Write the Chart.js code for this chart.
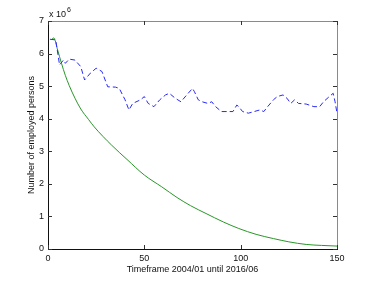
<!DOCTYPE html>
<html>
<head>
<meta charset="utf-8">
<script src="https://cdn.jsdelivr.net/npm/chart.js@4.4.1/dist/chart.umd.min.js"></script>
<style>
  html, body { margin: 0; padding: 0; background: #fff; }
  #wrap { width: 374px; height: 281px; }
</style>
</head>
<body>
<div id="wrap"><canvas id="empChart" width="374" height="281"></canvas></div>
<script>
// month index (x) and employed persons in millions (y)
var realMonths = [1, 4, 6, 8, 9, 11, 14, 17, 19, 22, 25, 28, 31, 35, 37, 40, 42, 44, 48, 50,
  52, 55, 58, 61, 63, 66, 69, 72, 75, 76, 78, 80, 83, 85, 87, 90, 93, 96, 98, 99,
  101, 104, 107, 110, 112, 114, 117, 119, 122, 124, 126, 128, 130, 134, 138, 141, 143, 146, 148, 149, 150];
var realValues = [6.44, 6.42, 5.65, 5.8, 5.7, 5.83, 5.8, 5.6, 5.19, 5.4, 5.55, 5.45, 4.98, 4.97, 4.93, 4.58, 4.27, 4.47, 4.58, 4.68,
  4.47, 4.37, 4.58, 4.73, 4.78, 4.63, 4.52, 4.73, 4.93, 4.83, 4.58, 4.52, 4.47, 4.52, 4.37, 4.22, 4.22, 4.22, 4.42, 4.37,
  4.22, 4.17, 4.22, 4.27, 4.22, 4.37, 4.58, 4.68, 4.73, 4.63, 4.47, 4.58, 4.47, 4.45, 4.37, 4.37, 4.52, 4.68, 4.78, 4.52, 4.17];

var modelMonths = [2, 3, 5, 7, 9, 11, 14, 17, 21, 24, 33, 41, 50, 59, 67, 74, 82, 91, 99, 108, 117, 125, 134, 142, 150];
var modelValues = [6.44, 6.48, 6.11, 5.7, 5.33, 5.02, 4.63, 4.3, 3.98, 3.75, 3.19, 2.75, 2.27, 1.91, 1.58, 1.33, 1.09, 0.83, 0.63, 0.45, 0.32, 0.22, 0.14, 0.11, 0.09];

var xTicks = [0, 50, 100, 150];
var yTicks = [0, 1, 2, 3, 4, 5, 6, 7];

function toPoints(xs, ys) {
  var pts = [];
  for (let i = 0; i < xs.length; i++) {
    pts.push({ x: xs[i], y: ys[i] });
  }
  return pts;
}

var fontFamily = "'Liberation Sans', Arial, Helvetica, sans-serif";

// matlab style box, inward ticks and the exponent note
const matlabBox = {
  id: "matlabBox",
  afterDraw(chart) {
    const ctx = chart.ctx;
    const a = chart.chartArea;
    const xs = chart.scales.x;
    const ys = chart.scales.y;
    const tick = 4;
    ctx.save();
    ctx.lineWidth = 1;
    // top and right edges
    ctx.strokeStyle = "#8a8a8a";
    ctx.beginPath();
    ctx.moveTo(a.left, a.top + 0.5);
    ctx.lineTo(a.right + 0.5, a.top + 0.5);
    ctx.lineTo(a.right + 0.5, a.bottom);
    ctx.stroke();
    // left and bottom edges
    ctx.strokeStyle = "#111";
    ctx.beginPath();
    ctx.moveTo(a.left + 0.5, a.top);
    ctx.lineTo(a.left + 0.5, a.bottom + 0.5);
    ctx.lineTo(a.right + 1, a.bottom + 0.5);
    ctx.stroke();
    // inward ticks
    ctx.strokeStyle = "#333";
    ctx.beginPath();
    xTicks.forEach(function (v) {
      const px = Math.round(xs.getPixelForValue(v)) + 0.5;
      ctx.moveTo(px, a.bottom);
      ctx.lineTo(px, a.bottom - tick);
      ctx.moveTo(px, a.top);
      ctx.lineTo(px, a.top + tick);
    });
    yTicks.forEach(function (v) {
      const py = Math.round(ys.getPixelForValue(v)) + 0.5;
      ctx.moveTo(a.left, py);
      ctx.lineTo(a.left + tick, py);
      ctx.moveTo(a.right, py);
      ctx.lineTo(a.right - tick, py);
    });
    ctx.stroke();
    // x 10^6
    ctx.fillStyle = "#111";
    ctx.textBaseline = "alphabetic";
    ctx.textAlign = "left";
    ctx.font = "9px " + fontFamily;
    ctx.fillText("x 10", a.left + 1, a.top - 4);
    const w = ctx.measureText("x 10").width;
    ctx.font = "7px " + fontFamily;
    ctx.fillText("6", a.left + 1 + w + 1, a.top - 9);
    ctx.restore();
  }
};

const empChart = new Chart(document.getElementById("empChart"), {
  type: "line",
  data: {
    datasets: [
      {
        label: "Employed persons",
        data: toPoints(realMonths, realValues),
        borderColor: "rgb(40, 40, 250)",
        borderWidth: 1,
        borderDash: [5, 3],
        pointRadius: 0,
        tension: 0,
        fill: false
      },
      {
        label: "Model",
        data: toPoints(modelMonths, modelValues),
        borderColor: "rgb(40, 150, 40)",
        borderWidth: 1,
        pointRadius: 0,
        cubicInterpolationMode: "monotone",
        fill: false
      }
    ]
  },
  options: {
    responsive: false,
    animation: false,
    events: [],
    layout: { padding: { left: 0, top: 21, right: 37, bottom: 0 } },
    plugins: {
      legend: { display: false },
      tooltip: { enabled: false }
    },
    scales: {
      x: {
        type: "linear",
        min: 0,
        max: 150,
        afterFit: (s) => { s.height = 32; },
        afterBuildTicks: (s) => { s.ticks = xTicks.map((v) => ({ value: v })); },
        grid: { display: false, drawTicks: false },
        border: { display: false },
        ticks: {
          padding: 4,
          maxRotation: 0,
          color: "#111",
          font: { family: fontFamily, size: 9 }
        },
        title: {
          display: true,
          text: "Timeframe 2004/01 until 2016/06",
          color: "#111",
          padding: { top: 0, bottom: 6 },
          font: { family: fontFamily, size: 9 }
        }
      },
      y: {
        min: 0,
        max: 7,
        afterFit: (s) => { s.width = 48; },
        afterBuildTicks: (s) => { s.ticks = yTicks.map((v) => ({ value: v })); },
        grid: { display: false, drawTicks: false },
        border: { display: false },
        ticks: {
          padding: 4,
          color: "#111",
          font: { family: fontFamily, size: 9 }
        },
        title: {
          display: true,
          text: "Number of employed persons",
          color: "#111",
          padding: { top: 26, bottom: 0 },
          font: { family: fontFamily, size: 9 }
        }
      }
    }
  },
  plugins: [matlabBox]
});
</script>
</body>
</html>
